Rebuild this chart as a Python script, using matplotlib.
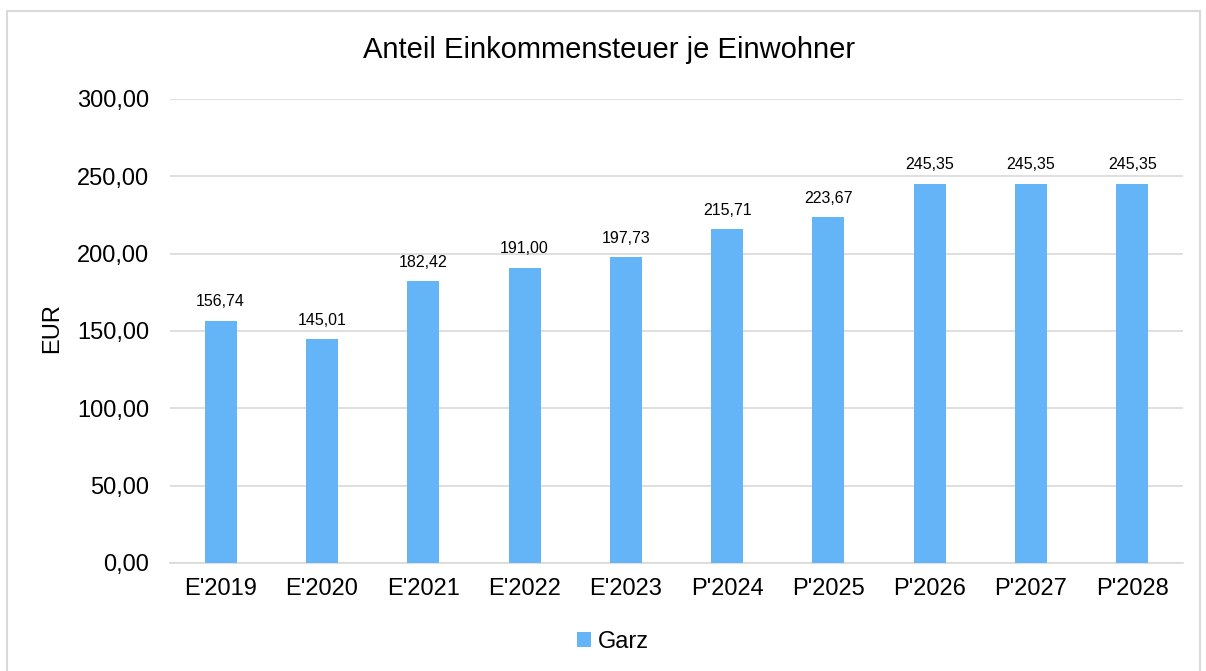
import matplotlib
matplotlib.use("Agg")
import matplotlib.pyplot as plt
from matplotlib.patches import Rectangle

categories = ["E'2019", "E'2020", "E'2021", "E'2022", "E'2023",
              "P'2024", "P'2025", "P'2026", "P'2027", "P'2028"]
values = [156.74, 145.01, 182.42, 191.00, 197.73, 215.71, 223.67, 245.35, 245.35, 245.35]
series_name = "Garz"
title = "Anteil Einkommensteuer je Einwohner"
ylabel = "EUR"
yticks = [0, 50, 100, 150, 200, 250, 300]

plt.rcParams['font.family'] = ['Liberation Sans', 'DejaVu Sans']

W, H = 1206, 671
fig = plt.figure(figsize=(W / 100, H / 100), dpi=100)
fig.patches.append(Rectangle((7 / W, -0.05), (1200 - 7) / W, 1 - 11 / H + 0.05,
                             transform=fig.transFigure, fill=False,
                             edgecolor='#d9d9d9', linewidth=1.5))

ax = fig.add_axes([170 / W, 1 - 563 / H, (1183 - 170) / W, (563 - 99) / H])
color = '#63b5f7'
x = list(range(len(categories)))
bars = ax.bar(x, values, width=0.315, color=color, zorder=3, label=series_name)
for xi, v in zip(x, values):
    ax.annotate(f"{v:.2f}".replace('.', ','), (xi, v), xytext=(0, 8),
                textcoords='offset points', ha='center', va='bottom', fontsize=11.5)

ax.set_xlim(-0.5, len(categories) - 0.5)
ax.set_ylim(0, 300)
ax.set_yticks(yticks)
ax.set_yticklabels([f"{t:.2f}".replace('.', ',') for t in yticks], fontsize=17)
ax.set_xticks(x)
ax.set_xticklabels(categories, fontsize=17)
ax.tick_params(axis='y', length=0, pad=15)
ax.tick_params(axis='x', length=0, pad=11)
ax.grid(axis='y', color='#d9d9d9', linewidth=1.2, zorder=0)
for s in ['top', 'right', 'left']:
    ax.spines[s].set_visible(False)
ax.spines['bottom'].set_color('#d9d9d9')
ax.spines['bottom'].set_linewidth(1.2)
ax.set_ylabel(ylabel, fontsize=17)
ax.yaxis.set_label_coords((63 - 170) / (1183 - 170), (563 - 328) / (563 - 99))

fig.text(609 / W, 1 - 50 / H, title, ha='center', va='center', fontsize=21)
fig.legend(handles=[bars], labels=[series_name], loc='center',
           bbox_to_anchor=(613 / W, 1 - 642 / H), frameon=False, fontsize=17,
           handlelength=0.6, handleheight=0.6, handletextpad=0.3)

fig.savefig("out.png", dpi=100)
